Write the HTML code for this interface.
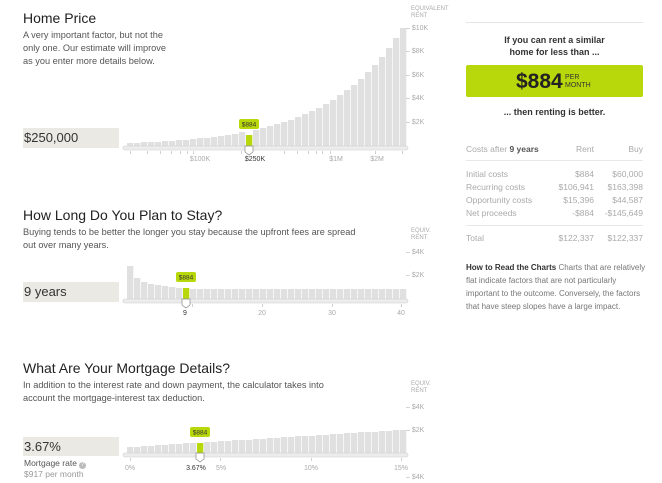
<!DOCTYPE html>
<html><head><meta charset="utf-8">
<style>
body{margin:0;width:662px;height:483px;background:#fff;font-family:"Liberation Sans",sans-serif;overflow:hidden;position:relative;color:#333}
.a{position:absolute;white-space:nowrap}
h2{position:absolute;margin:0;font-weight:normal;font-size:14px;color:#222}
.d{position:absolute;font-size:9.2px;line-height:13px;color:#555}
.box{position:absolute;background:#ebe9e3;font-size:13px;color:#333;padding-left:1px;line-height:20px}
.t{table-layout:fixed}
.t td{font-size:8.5px;color:#aaa;padding:0;height:13px;overflow:visible;white-space:nowrap}
</style></head><body>
<h2 style="left:23px;top:10px">Home Price</h2>
<div class="d" style="left:23px;top:29px">A very important factor, but not the<br>only one. Our estimate will improve<br>as you enter more details below.</div>
<div class="box" style="left:23px;top:128px;width:95px;height:20px">$250,000</div>

<h2 style="left:23px;top:207px">How Long Do You Plan to Stay?</h2>
<div class="d" style="left:23px;top:226px">Buying tends to be better the longer you stay because the upfront fees are spread<br>out over many years.</div>
<div class="box" style="left:23px;top:282px;width:95px;height:20px">9 years</div>

<h2 style="left:23px;top:360px">What Are Your Mortgage Details?</h2>
<div class="d" style="left:23px;top:379px">In addition to the interest rate and down payment, the calculator takes into<br>account the mortgage-interest tax deduction.</div>
<div class="box" style="left:23px;top:437px;width:95px;height:19px">3.67%</div>
<div class="a" style="left:24px;top:458px;font-size:8.5px;color:#555">Mortgage rate <span style="display:inline-block;width:7px;height:7px;border-radius:50%;background:#bbb;color:#fff;font-size:6px;text-align:center;line-height:7px">?</span></div>
<div class="a" style="left:24px;top:469px;font-size:8.5px;color:#999">$917 per month</div>

<svg id="s" class="a" style="left:0;top:0" width="662" height="483" font-family="Liberation Sans, sans-serif"></svg>

<div class="a" style="left:466px;top:22px;width:177px;border-top:1px solid #e5e5e5"></div>
<div class="a" style="left:466px;top:34px;width:177px;text-align:center;font-size:9px;font-weight:bold;line-height:12px;color:#333;white-space:normal">If you can rent a similar<br>home for less than ...</div>
<div class="a" style="left:466px;top:65px;width:177px;height:32px;background:#b8d80b;border-radius:2px"></div>
<div class="a" style="left:516px;top:70px;font-size:21px;font-weight:bold;color:#222">$884</div>
<div class="a" style="left:565px;top:74px;font-size:7px;line-height:8px;color:#333">PER<br>MONTH</div>
<div class="a" style="left:466px;top:107px;width:177px;text-align:center;font-size:9px;font-weight:bold;color:#333">... then renting is better.</div>
<table class="t a" style="left:466px;top:142px;width:177px;border-collapse:collapse">
<colgroup><col style="width:78px"><col style="width:50px"><col style="width:49px"></colgroup>
<tr><td>Costs after <b style="color:#555">9 years</b></td><td align="right">Rent</td><td align="right">Buy</td></tr>
</table>
<div class="a" style="left:466px;top:160px;width:177px;border-top:1px solid #e8e8e8"></div>
<table class="t a" style="left:466px;top:167px;width:177px;border-collapse:collapse">
<colgroup><col style="width:78px"><col style="width:50px"><col style="width:49px"></colgroup>
<tr><td>Initial costs</td><td align="right">$884</td><td align="right">$60,000</td></tr>
<tr><td>Recurring costs</td><td align="right">$106,941</td><td align="right">$163,398</td></tr>
<tr><td>Opportunity costs</td><td align="right">$15,396</td><td align="right">$44,587</td></tr>
<tr><td>Net proceeds</td><td align="right">-$884</td><td align="right">-$145,649</td></tr>
</table>
<div class="a" style="left:466px;top:225px;width:177px;border-top:1px solid #e8e8e8"></div>
<table class="t a" style="left:466px;top:231px;width:177px;border-collapse:collapse">
<colgroup><col style="width:78px"><col style="width:50px"><col style="width:49px"></colgroup>
<tr><td>Total</td><td align="right">$122,337</td><td align="right">$122,337</td></tr>
</table>
<div class="a" style="left:466px;top:261px;width:180px;white-space:normal;font-size:8px;line-height:13px;color:#777"><b style="color:#333">How to Read the Charts</b> Charts that are relatively flat indicate factors that are not particularly important to the outcome. Conversely, the factors that have steep slopes have a large impact.</div>

<script>
var s=document.getElementById('s'),h='';
function r(x,y,w,hh,f){h+='<rect x="'+x+'" y="'+y+'" width="'+w+'" height="'+hh+'" fill="'+f+'"/>';}
function t(x,y,str,o){o=o||{};h+='<text x="'+x+'" y="'+y+'" font-size="'+(o.s||7)+'" fill="'+(o.c||'#aaa')+'" text-anchor="'+(o.a||'start')+'"'+(o.b?' font-weight="bold"':'')+'>'+str+'</text>';}
function chart(base,heights,hi){
 for(var i=0;i<40;i++){var x=127+i*7,hh=heights[i];r(x,base-hh,6.3,hh,i==hi?'#b8d80b':'#e0e0e0');}
 h+='<rect x="123" y="'+(base)+'" width="285" height="4" rx="2" fill="#ececec" stroke="#ccc" stroke-width="0.6"/>';
 var bx=127+hi*7+3;
 h+='<rect x="'+(bx-10)+'" y="'+(base-heights[hi]-16)+'" width="20" height="10" rx="2" fill="#b8d80b"/>';
 t(bx,base-heights[hi]-8.5,'$884',{s:6.5,c:'#333',a:'middle'});
 h+='<path d="M'+(bx-4)+' '+(base)+' h8 v6 l-4 3 l-4 -3z" fill="#fff" stroke="#888" stroke-width="0.7"/>';
}
var a=[];for(var i=0;i<40;i++)a.push(Math.round(3*Math.exp(0.0942*i)));
a[17]=11;
chart(146,a,17);
t(411,10,'EQUIVALENT',{s:6});t(411,17,'RENT',{s:6});
[['$10K',28],['$8K',51],['$6K',75],['$4K',98],['$2K',122]].forEach(function(v){t(406,v[1]+2,'– '+v[0]);});
[130,147,160,171,180,187,193,241,284,297,308,316,322,330,375,402].forEach(function(x){r(x,151,0.7,3,'#bbb');});
t(200,161,'$100K',{a:'middle'});t(255,161,'$250K',{a:'middle',c:'#333'});t(336,161,'$1M',{a:'middle'});t(377,161,'$2M',{a:'middle'});
var b=[33,21,17,15,14,13,12,11,11];for(var i=9;i<40;i++)b.push(10);
chart(299,b,8);
t(411,232,'EQUIV.',{s:6});t(411,239,'RENT',{s:6});
t(406,254,'– $4K');t(406,277,'– $2K');
[192,262,332,401].forEach(function(x){r(x,304,0.7,3,'#bbb');});
t(185,315,'9',{a:'middle',c:'#333'});t(262,315,'20',{a:'middle'});t(332,315,'30',{a:'middle'});t(401,315,'40',{a:'middle'});
var c=[];for(var i=0;i<40;i++)c.push(Math.round(6+i*0.44));
c[10]=10;
chart(453,c,10);
t(411,385,'EQUIV.',{s:6});t(411,392,'RENT',{s:6});
t(406,409,'– $4K');t(406,432,'– $2K');t(406,479,'– $4K');
[130,220,311,401].forEach(function(x){r(x,458,0.7,3,'#bbb');});
t(130,470,'0%',{a:'middle'});t(196,470,'3.67%',{a:'middle',c:'#333'});t(221,470,'5%',{a:'middle'});t(311,470,'10%',{a:'middle'});t(401,470,'15%',{a:'middle'});
s.innerHTML=h;
</script>
</body></html>
